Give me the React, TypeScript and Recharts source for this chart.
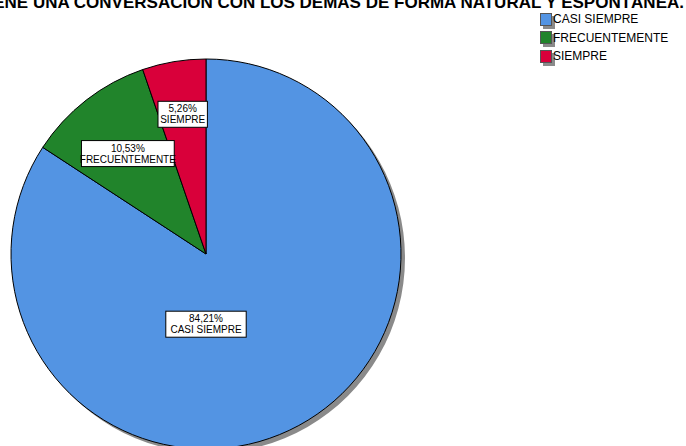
import React from "react";
import { Cell, Legend, Pie, PieChart } from "recharts";

const categories = ["CASI SIEMPRE", "FRECUENTEMENTE", "SIEMPRE"];
const percents = [84.21, 10.53, 5.26];
const colors = ["#5394e3", "#21842b", "#d9003a"];
const title = "MANTIENE UNA CONVERSACIÓN CON LOS DEMÁS DE FORMA NATURAL Y ESPONTÁNEA.";

const data = categories.map((name, i) => ({ name, value: percents[i] }));
const shadow = [{ name: "shadow", value: 1 }];

const RAD = Math.PI / 180;
const font = "Arial, 'Liberation Sans', sans-serif";

function SliceLabel(props: any) {
  const { cx, cy, midAngle, outerRadius, percent, name, value } = props;
  let x: number;
  let y: number;
  if (percent > 0.5) {
    x = cx;
    y = cy + outerRadius * 0.36;
  } else {
    const r = outerRadius * (0.8 - 1.4 * percent);
    x = cx + r * Math.cos(-midAngle * RAD);
    y = cy + r * Math.sin(-midAngle * RAD);
  }
  const line1 = value.toFixed(2).replace(".", ",") + "%";
  const w = Math.max(line1.length, name.length) * 6.2 + 6;
  const h = 26;
  return (
    <g>
      <rect x={x - w / 2} y={y - h / 2} width={w} height={h} fill="#fff" stroke="#000" strokeWidth={1} />
      <text x={x} y={y - 2} textAnchor="middle" fontFamily={font} fontSize={10} fill="#000">
        {line1}
      </text>
      <text x={x} y={y + 9} textAnchor="middle" fontFamily={font} fontSize={10} fill="#000">
        {name}
      </text>
    </g>
  );
}

function LegendBox() {
  return (
    <div style={{ fontFamily: font, fontSize: 12, color: "#000" }}>
      {categories.map((c, i) => (
        <div key={c} style={{ display: "flex", alignItems: "center", height: 18.5 }}>
          <span
            style={{
              display: "inline-block",
              width: 10,
              height: 11,
              background: colors[i],
              border: "1px solid #555",
              boxShadow: "3px 3px 0 #8a8a8a",
              marginRight: 1,
            }}
          />
          <span>{c}</span>
        </div>
      ))}
    </div>
  );
}

export default function App() {
  return (
    <div style={{ position: "absolute", left: 0, top: 0, width: 686, height: 446, background: "#fff", overflow: "hidden" }}>
      <PieChart width={686} height={446} margin={{ top: 0, right: 0, bottom: 0, left: 0 }}>
        <text x={684} y={8} textAnchor="end" fontFamily={font} fontSize={17} fontWeight="bold" fill="#000">
          {title}
        </text>
        <Pie
          data={shadow}
          dataKey="value"
          cx={210}
          cy={258}
          outerRadius={195}
          fill="#8a8a8a"
          stroke="none"
          isAnimationActive={false}
          legendType="none"
        />
        <Pie
          data={data}
          dataKey="value"
          nameKey="name"
          cx={206}
          cy={254}
          outerRadius={195}
          startAngle={90}
          endAngle={-270}
          stroke="#000"
          strokeWidth={1}
          label={SliceLabel}
          labelLine={false}
          isAnimationActive={false}
        >
          {data.map((d, i) => (
            <Cell key={d.name} fill={colors[i]} />
          ))}
        </Pie>
        <Legend
          layout="vertical"
          align="right"
          verticalAlign="top"
          content={() => <LegendBox />}
          wrapperStyle={{ position: "absolute", left: 540, top: 10, width: 146 }}
        />
      </PieChart>
    </div>
  );
}
